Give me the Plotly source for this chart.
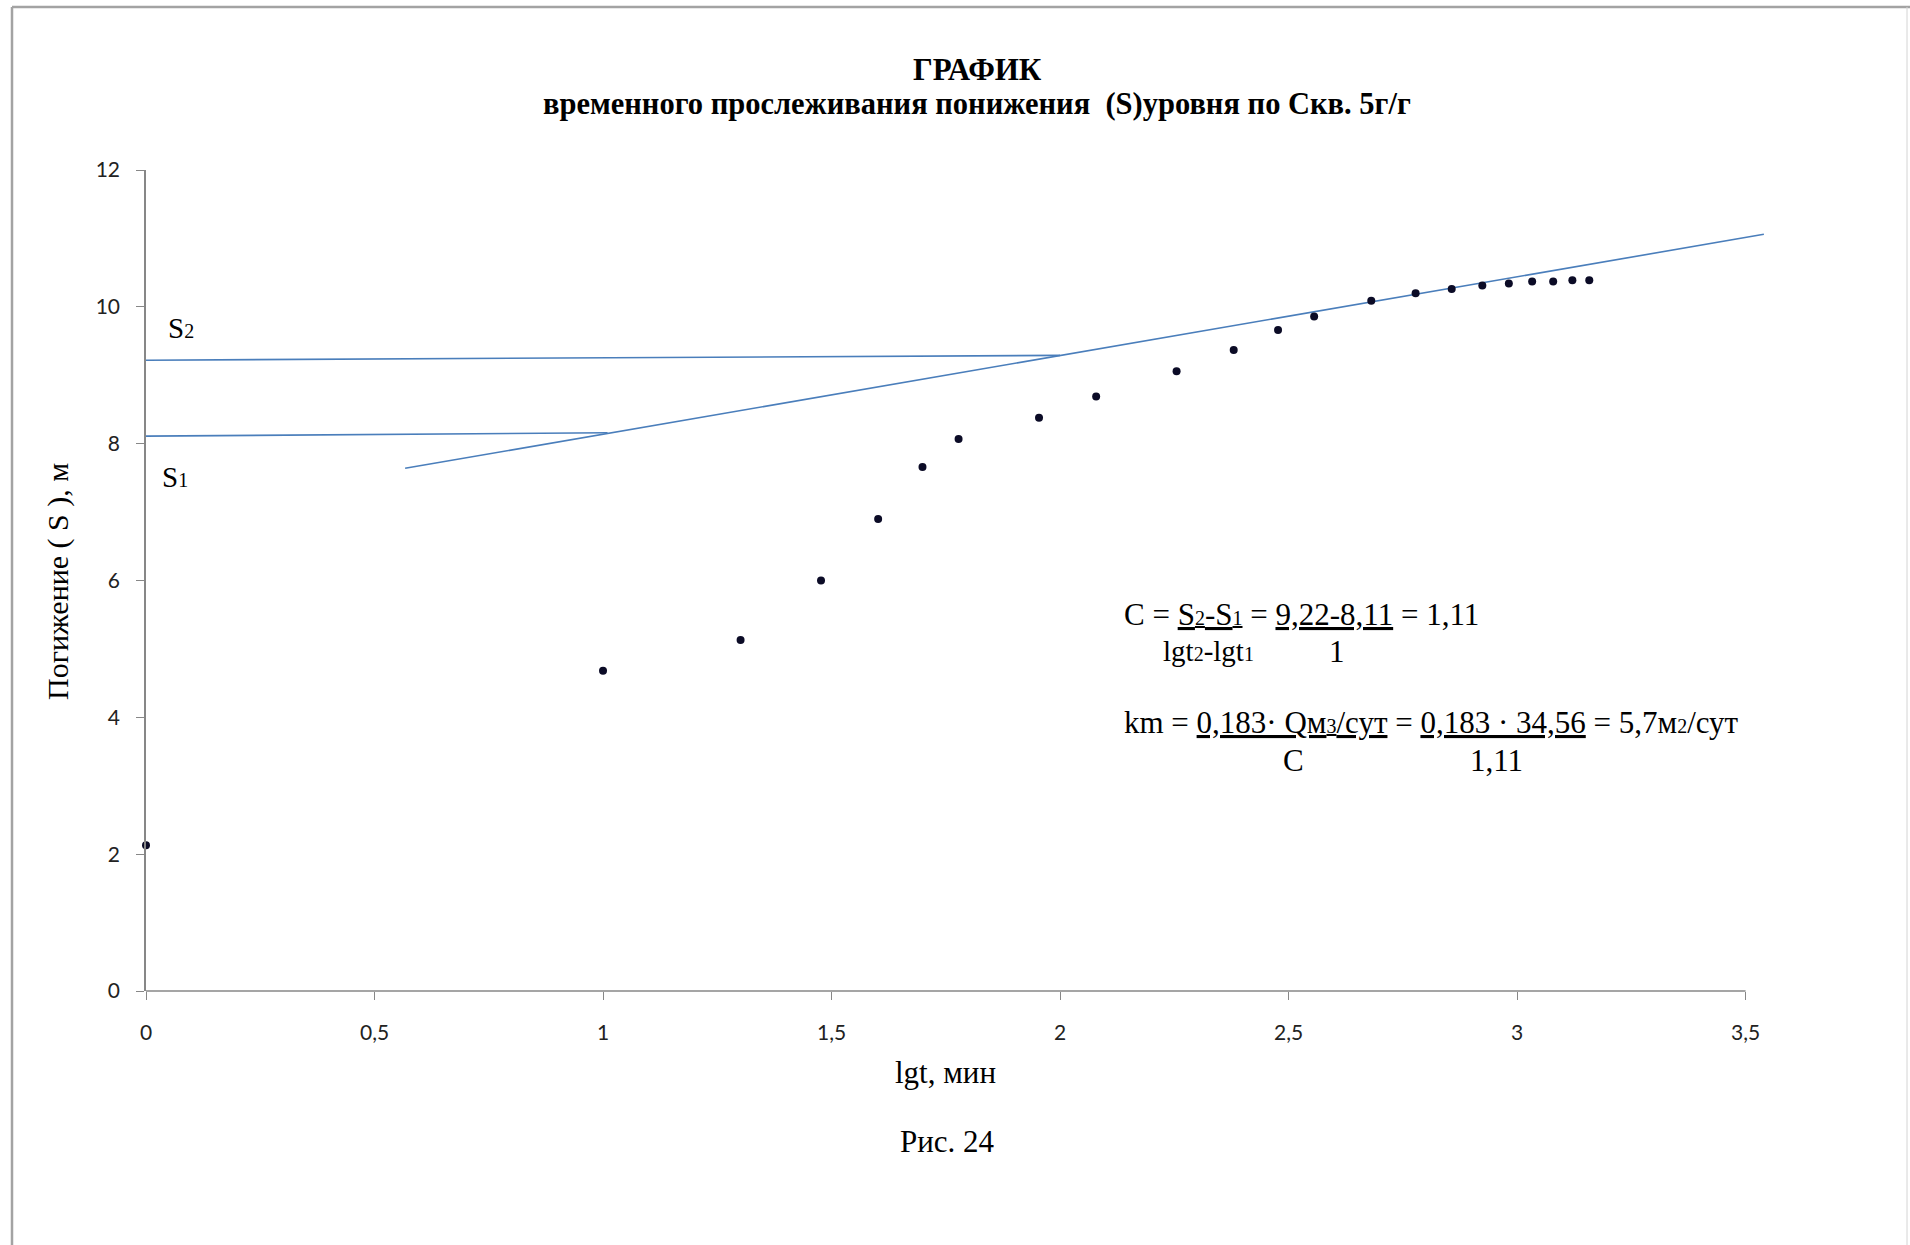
import plotly.graph_objects as go

# Drawdown observations: lg of elapsed time (min) vs drawdown S (m)
lgt = [0.0, 1.0, 1.301, 1.477, 1.602, 1.699, 1.778, 1.954, 2.079, 2.255, 2.380,
       2.477, 2.556, 2.681, 2.778, 2.857, 2.924, 2.982, 3.033, 3.079, 3.121, 3.158]
drawdown = [2.13, 4.68, 5.13, 6.00, 6.90, 7.66, 8.07, 8.38, 8.69, 9.06, 9.37,
            9.66, 9.86, 10.09, 10.20, 10.26, 10.31, 10.34, 10.37, 10.37, 10.39, 10.39]

# Straight-line section of the curve and the S1 / S2 read-off lines
trend_x = [0.567, 3.54]
trend_y = [7.64, 11.06]
s2_x = [0.0, 2.0]
s2_y = [9.22, 9.29]
s1_x = [0.0, 1.01]
s1_y = [8.11, 8.16]

x_ticks = [0, 0.5, 1, 1.5, 2, 2.5, 3, 3.5]
x_tick_labels = ["0", "0,5", "1", "1,5", "2", "2,5", "3", "3,5"]
y_ticks = [0, 2, 4, 6, 8, 10, 12]
y_tick_labels = ["0", "2", "4", "6", "8", "10", "12"]

W, H = 1910, 1245
L, R, T, B = 146, 137, 170, 254
X_MAX = 3.56

SERIF = "Liberation Serif"
SANS = "Lato"
LINE = "#4a7ebb"
AXIS = "#878787"


def fx(px):
    return (px - L) / (W - L - R)


def fy(py):
    return (H - B - py) / (H - T - B)


fig = go.Figure()

for xs, ys in ((s2_x, s2_y), (s1_x, s1_y), (trend_x, trend_y)):
    fig.add_trace(go.Scatter(x=xs, y=ys, mode="lines",
                             line=dict(color=LINE, width=1.6),
                             hoverinfo="skip", showlegend=False))

fig.add_trace(go.Scatter(x=lgt, y=drawdown, mode="markers",
                         marker=dict(color="#0b0b26", size=8),
                         cliponaxis=False, showlegend=False))

sub = "<span style='font-size:20px'>{}</span>"


def under(text):
    return ("<span style='text-decoration:underline;text-decoration-skip-ink:none'>"
            + text + "</span>")


def note(text, px, py, size=30, bold=False, anchor="center", angle=0):
    fig.add_annotation(text=f"<b>{text}</b>" if bold else text,
                       x=fx(px), y=fy(py), xref="paper", yref="paper",
                       xanchor=anchor, yanchor="middle", showarrow=False,
                       textangle=angle,
                       font=dict(family=SERIF, size=size, color="#000"))


note("ГРАФИК", 977, 69, size=31, bold=True)
note("временного прослеживания понижения \u00a0(S)уровня по Скв. 5г/г", 977, 104,
     size=30.5, bold=True)
note("Погижение ( S ), м", 58, 582, size=30, angle=-90)
note("lgt, мин", 945, 1072, size=31)
note("Рис. 24", 947, 1141, size=31)
note("S" + sub.format("2"), 181, 328, size=29)
note("S" + sub.format("1"), 175, 477, size=29)

note("C = " + under("S" + sub.format("2") + "-S" + sub.format("1")) + " = "
     + under("9,22-8,11") + " = 1,11", 1122, 614, size=31, anchor="left")
note("lgt" + sub.format("2") + "-lgt" + sub.format("1"), 1208, 651, size=29)
note("1", 1337, 651, size=31)
note("km = " + under("0,183· Qм" + sub.format("3") + "/сут") + " = "
     + under("0,183 · 34,56") + " = 5,7м" + sub.format("2") + "/сут",
     1122, 722, size=31, anchor="left")
note("C", 1293, 760, size=31)
note("1,11", 1496, 760, size=31)

# x axis line ends at 3.5 while the plot area runs a little further
fig.add_shape(type="line", xref="paper", yref="paper", x0=0, x1=3.5 / X_MAX, y0=0, y1=0,
              line=dict(color=AXIS, width=1.5))

# chart frame
fig.add_shape(type="line", xref="paper", yref="paper", x0=fx(12), x1=fx(1910),
              y0=fy(7), y1=fy(7), line=dict(color="#a3a3a3", width=2.5))
fig.add_shape(type="line", xref="paper", yref="paper", x0=fx(12), x1=fx(12),
              y0=fy(7), y1=fy(1250), line=dict(color="#a3a3a3", width=2.5))
fig.add_shape(type="line", xref="paper", yref="paper", x0=fx(1907), x1=fx(1907),
              y0=fy(7), y1=fy(1250), line=dict(color="#d4d4d4", width=1))

fig.update_layout(
    width=W, height=H,
    margin=dict(l=L, r=R, t=T, b=B, autoexpand=False),
    paper_bgcolor="white", plot_bgcolor="white",
    showlegend=False,
    xaxis=dict(range=[0, X_MAX], tickvals=x_ticks, ticktext=x_tick_labels,
               ticks="outside", ticklen=8, tickcolor=AXIS, tickwidth=1,
               showgrid=False, zeroline=False, showline=False,
               ticklabelstandoff=15,
               tickfont=dict(family=SANS, size=21, color="#222")),
    yaxis=dict(range=[0, 12], tickvals=y_ticks, ticktext=y_tick_labels,
               ticks="outside", ticklen=8, tickcolor=AXIS, tickwidth=1,
               showgrid=False, zeroline=False, showline=True,
               linecolor=AXIS, linewidth=1.5, ticklabelstandoff=12,
               tickfont=dict(family=SANS, size=21, color="#222")),
)

fig.write_html("out.html")
